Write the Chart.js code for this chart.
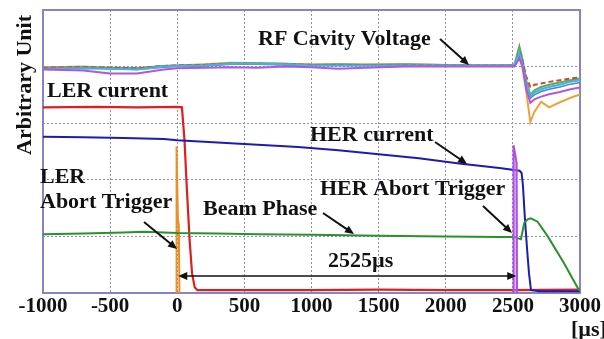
<!DOCTYPE html>
<html>
<head>
<meta charset="utf-8">
<script src="https://cdn.jsdelivr.net/npm/chart.js@4.4.1/dist/chart.umd.min.js"></script>
<style>
  html, body { margin: 0; padding: 0; background: #fff; }
  #wrap { width: 604px; height: 339px; }
</style>
</head>
<body>
<div id="wrap"><canvas id="abortChart"></canvas></div>
<script>
// Time axis ticks [us]
const xTicks = [-1000, -500, 0, 500, 1000, 1500, 2000, 2500, 3000];

// RF cavity voltage (six probes)
const rfTime = [-1000, -700, -500, -300, -100, 0, 200, 400, 600, 800, 1000, 1200, 1400, 1700, 2000, 2300, 2510, 2525, 2548, 2570, 2600, 2630, 2660, 2710, 2770, 2850, 2930, 3000];
const rfOrange = [3.99, 4.00, 3.98, 3.97, 4.01, 4.02, 4.04, 4.07, 4.06, 4.05, 4.04, 4.04, 4.04, 4.04, 4.03, 4.03, 4.03, 4.10, 4.25, 4.08, 3.55, 3.02, 3.20, 3.38, 3.28, 3.37, 3.45, 3.51];
const rfGreen = [3.98, 3.99, 3.98, 3.97, 4.01, 4.02, 4.03, 4.06, 4.06, 4.05, 4.03, 4.04, 4.03, 4.04, 4.03, 4.02, 4.03, 4.15, 4.36, 4.15, 3.75, 3.50, 3.58, 3.64, 3.68, 3.72, 3.76, 3.79];
const rfCyan = [3.96, 3.97, 3.96, 3.95, 4.00, 4.01, 4.02, 4.05, 4.05, 4.04, 4.02, 4.02, 4.02, 4.02, 4.02, 4.02, 4.02, 4.10, 4.25, 4.05, 3.70, 3.47, 3.54, 3.60, 3.64, 3.68, 3.73, 3.76];
const rfBlue = [3.96, 3.97, 3.96, 3.95, 3.99, 4.00, 4.01, 4.04, 4.04, 4.03, 4.02, 4.02, 4.02, 4.02, 4.01, 4.01, 4.01, 4.08, 4.22, 4.03, 3.66, 3.44, 3.50, 3.56, 3.60, 3.64, 3.69, 3.72];
const rfPurple = [3.95, 3.93, 3.88, 3.88, 3.95, 3.97, 3.98, 3.99, 3.98, 4.00, 3.99, 3.96, 3.98, 4.00, 4.00, 4.00, 4.00, 4.05, 4.15, 4.00, 3.60, 3.36, 3.42, 3.47, 3.51, 3.55, 3.60, 3.63];
const rfRed = [3.98, 3.99, 3.98, 3.97, 4.01, 4.02, 4.03, 4.05, 4.05, 4.04, 4.03, 4.03, 4.03, 4.03, 4.02, 4.02, 4.02, 4.08, 4.28, 4.12, 3.82, 3.64, 3.68, 3.70, 3.73, 3.76, 3.79, 3.81];

// LER current
const lerTime = [-1000, -600, -300, 0, 35, 54, 72, 92, 110, 130, 150, 500, 1000, 1500, 2000, 2500, 3000];
const lerCurrent = [3.28, 3.29, 3.28, 3.29, 3.28, 2.70, 1.82, 0.94, 0.35, 0.10, 0.05, 0.05, 0.05, 0.06, 0.05, 0.05, 0.06];

// HER current
const herTime = [-1000, -700, -400, -100, 0, 300, 600, 900, 1200, 1500, 1800, 2100, 2400, 2550, 2565, 2575, 2590, 2605, 2620, 2635, 2700, 3000];
const herCurrent = [2.76, 2.75, 2.74, 2.72, 2.70, 2.66, 2.62, 2.58, 2.52, 2.45, 2.38, 2.29, 2.21, 2.16, 2.12, 1.90, 1.30, 0.80, 0.35, 0.05, 0.03, 0.03];

// Beam phase
const phaseTime = [-1000, -700, -400, -250, -100, 0, 300, 600, 1000, 1500, 2000, 2400, 2510, 2535, 2560, 2585, 2610, 2634, 2684, 2760, 2880, 2990, 3000];
const beamPhase = [1.04, 1.05, 1.07, 1.08, 1.07, 1.06, 1.05, 1.04, 1.03, 1.01, 1.00, 0.99, 0.99, 0.97, 0.95, 1.24, 1.30, 1.32, 1.26, 1.00, 0.53, 0.06, 0.04];

// Abort triggers
const lerTrigTime = [-6, -5, 5, 12, 16];
const lerTrigger = [0.0, 2.59, 1.30, 1.20, 0.0];
const herTrigTime = [2503, 2505, 2528, 2531];
const herTrigger = [0.0, 2.61, 2.30, 0.0];

const pts = (xs, ys) => xs.map((x, i) => ({ x: x, y: ys[i] }));

function trace(data, color, width, extra) {
  return Object.assign({
    data: data,
    showLine: true,
    borderColor: color,
    borderWidth: width,
    pointRadius: 0,
    tension: 0,
    fill: false,
  }, extra || {});
}

const serif = "'Liberation Serif', 'Times New Roman', serif";
const labelFont = "bold 20px " + serif;

// annotation text, pixel positions (left, baseline)
const notes = [
  { text: "RF Cavity Voltage", x: 258, y: 45 },
  { text: "LER current", x: 47, y: 97 },
  { text: "HER current", x: 310, y: 141 },
  { text: "LER", x: 40, y: 183 },
  { text: "Abort Trigger", x: 40, y: 208 },
  { text: "Beam Phase", x: 203, y: 215 },
  { text: "HER Abort Trigger", x: 320, y: 195 },
  { text: "2525\u00b5s", x: 328, y: 267 },
  { text: "[\u00b5s]", x: 571, y: 336 },
];

const arrows = [
  { from: [440, 39], to: [469, 65] },
  { from: [435, 142], to: [467, 164] },
  { from: [144, 222], to: [177, 249] },
  { from: [323, 213], to: [354, 234] },
  { from: [483, 206], to: [512, 233] },
];

function arrowHead(ctx, x1, y1, x2, y2) {
  const a = Math.atan2(y2 - y1, x2 - x1);
  const len = 9, half = 4;
  ctx.beginPath();
  ctx.moveTo(x2, y2);
  ctx.lineTo(x2 - len * Math.cos(a) + half * Math.sin(a), y2 - len * Math.sin(a) - half * Math.cos(a));
  ctx.lineTo(x2 - len * Math.cos(a) - half * Math.sin(a), y2 - len * Math.sin(a) + half * Math.cos(a));
  ctx.closePath();
  ctx.fill();
}

const framePlugin = {
  id: "frame",
  beforeDatasetsDraw(chart) {
    const { ctx, chartArea: a } = chart;
    ctx.save();
    ctx.strokeStyle = "#8585c6";
    ctx.lineWidth = 2;
    ctx.strokeRect(a.left, a.top, a.right - a.left, a.bottom - a.top);
    ctx.restore();
  },
};

const notesPlugin = {
  id: "notes",
  afterDraw(chart) {
    const ctx = chart.ctx;
    ctx.save();
    ctx.fillStyle = "#111";
    ctx.strokeStyle = "#111";
    ctx.font = labelFont;
    ctx.textBaseline = "alphabetic";
    ctx.textAlign = "left";
    notes.forEach((n) => {
      ctx.save();
      ctx.translate(n.x, n.y);
      ctx.scale(1.1, 1);
      ctx.fillText(n.text, 0, 0);
      ctx.restore();
    });

    // y title
    ctx.save();
    ctx.translate(31, 85);
    ctx.rotate(-Math.PI / 2);
    ctx.scale(1.1, 1);
    ctx.textAlign = "center";
    ctx.fillText("Arbitrary Unit", 0, 0);
    ctx.restore();

    // pointer arrows
    ctx.lineWidth = 2;
    arrows.forEach((ar) => {
      const [x1, y1] = ar.from, [x2, y2] = ar.to;
      const a = Math.atan2(y2 - y1, x2 - x1);
      ctx.beginPath();
      ctx.moveTo(x1, y1);
      ctx.lineTo(x2 - 7 * Math.cos(a), y2 - 7 * Math.sin(a));
      ctx.stroke();
      arrowHead(ctx, x1, y1, x2, y2);
    });

    // 2525 us span
    const xs = chart.scales.x, ys = chart.scales.y;
    const xa = xs.getPixelForValue(0) + 1, xb = xs.getPixelForValue(2525);
    const yy = ys.getPixelForValue(0.3);
    ctx.lineWidth = 1.5;
    ctx.beginPath();
    ctx.moveTo(xa + 7, yy);
    ctx.lineTo(xb - 7, yy);
    ctx.stroke();
    arrowHead(ctx, xb, yy, xa, yy);
    arrowHead(ctx, xa, yy, xb, yy);
    ctx.restore();
  },
};

const gridColor = "#8c8cc8";

new Chart(document.getElementById("abortChart"), {
  type: "scatter",
  data: {
    datasets: [
      trace(pts(rfTime, rfPurple), "#b455dc", 2),
      trace(pts(rfTime, rfCyan), "#3fb6e2", 2),
      trace(pts(rfTime, rfBlue), "#4f7fd6", 1.5),
      trace(pts(rfTime, rfRed), "#c44a3c", 2, { borderDash: [5, 3] }),
      trace(pts(rfTime, rfGreen), "#5aac5a", 2),
      trace(pts(rfTime, rfOrange), "#eea23c", 2),
      trace(pts(herTrigTime, herTrigger), "#b050e0", 2, { fill: "origin", backgroundColor: "rgba(196,130,235,0.55)" }),
      trace(pts(phaseTime, beamPhase), "#2a922a", 2),
      trace(pts(herTime, herCurrent), "#1c1cb4", 2),
      trace(pts(lerTime, lerCurrent), "#e01e1e", 2.2),
      trace(pts(lerTrigTime, lerTrigger), "#e8902a", 2),
    ],
  },
  options: {
    responsive: true,
    maintainAspectRatio: false,
    animation: false,
    layout: { padding: { top: 10, right: 24, left: 0, bottom: 0 } },
    plugins: {
      legend: { display: false },
      tooltip: { enabled: false },
    },
    scales: {
      x: {
        type: "linear",
        min: -1000,
        max: 3000,
        afterBuildTicks: (s) => { s.ticks = xTicks.map((v) => ({ value: v })); },
        afterFit: (s) => { s.height = 46; },
        ticks: {
          color: "#111",
          padding: 1,
          maxRotation: 0,
          autoSkip: false,
          font: { family: serif, weight: "bold", size: 21 },
          callback: (v) => String(v),
        },
        grid: { color: gridColor, lineWidth: 1, drawTicks: false },
        border: { display: false, dash: [2, 2] },
      },
      y: {
        min: 0,
        max: 5,
        ticks: { display: false, stepSize: 1 },
        afterFit: (s) => { s.width = 43; },
        grid: { color: gridColor, lineWidth: 1, drawTicks: false },
        border: { display: false, dash: [2, 2] },
      },
    },
  },
  plugins: [framePlugin, notesPlugin],
});
</script>
</body>
</html>
